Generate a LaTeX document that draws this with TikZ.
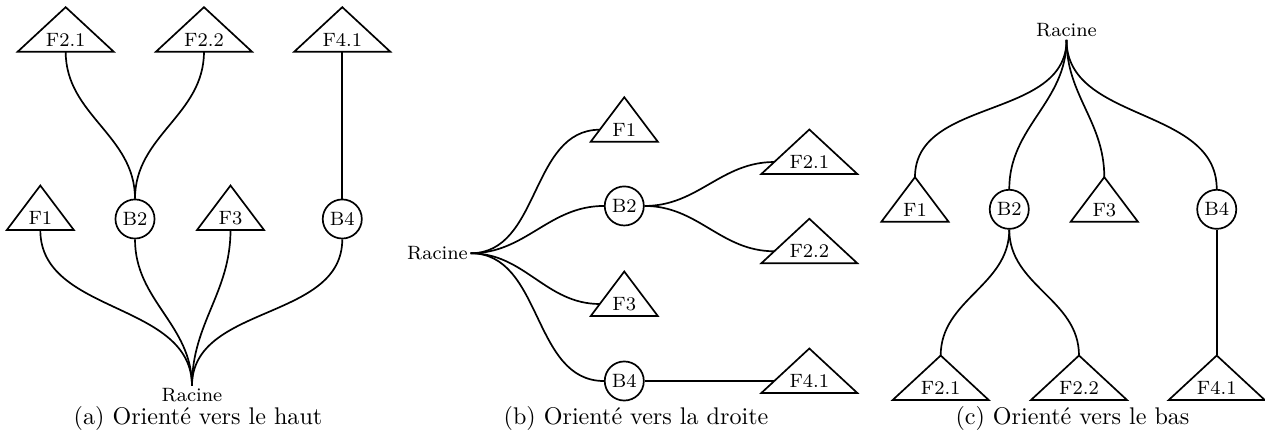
\documentclass[tikz,border=0pt]{standalone}
\usepackage{fontspec}
\usetikzlibrary{calc}
\def\feuille(#1)(#2)#3#4{%
  \node[feuille] (#1) at (#2) {#3};
  \draw[lien] ($(#1)+(-#4,-0.175)$) -- ($(#1)+(0,0.474)$) -- ($(#1)+(#4,-0.175)$) -- cycle;
  \coordinate (#1-b) at ($(#1)+(0,-0.175)$);
  \coordinate (#1-h) at ($(#1)+(0,0.474)$);
  \coordinate (#1-g) at ($(#1)+(-0.73*#4,0)$);
}

\begin{document}
\begin{tikzpicture}[
    lien/.style={line width=0.7pt},
    feuille/.style={inner sep=0pt, font=\footnotesize},
    noeud/.style={draw, circle, lien, minimum size=0.57cm, inner sep=0pt, font=\footnotesize},
    racine/.style={inner sep=1pt, font=\footnotesize},
    legende/.style={inner sep=0pt}]
	\useasboundingbox (0,0) rectangle (18.45,-6.432);
	
	%%%%% (a) vers le haut %%%%%
	\node[racine, anchor=north] (aR) at (2.800,-5.628) {Racine};
	\feuille(aF1)(0.588,-3.180){F1}{0.489}
	\node[noeud] (aB2) at (1.969,-3.194) {B2};
	\feuille(aF3)(3.362,-3.180){F3}{0.489}
	\node[noeud] (aB4) at (4.992,-3.194) {B4};
	\feuille(aF21)(0.958,-0.579){F2.1}{0.70}
	\feuille(aF22)(2.975,-0.579){F2.2}{0.70}
	\feuille(aF41)(4.992,-0.579){F4.1}{0.70}
	
	\draw[lien] (aR.north) to[out=90,in=-90] (aF1-b);
	\draw[lien] (aR.north) to[out=90,in=-90] (aB2.south);
	\draw[lien] (aR.north) to[out=90,in=-90] (aF3-b);
	\draw[lien] (aR.north) to[out=90,in=-90] (aB4.south);
	\draw[lien] (aB2.north) to[out=90,in=-90] (aF21-b);
	\draw[lien] (aB2.north) to[out=90,in=-90] (aF22-b);
	\draw[lien] (aB4.north) -- (aF41-b);
	
	\node[legende] (aL) at (2.888,-6.097) {(a) Orienté vers le haut};
	
	%%%%% (b) vers la droite %%%%%
	\node[racine, anchor=east] (bR) at (6.865,-3.694) {Racine};
	\feuille(bF1)(9.105,-1.892){F1}{0.489}
	\node[noeud] (bB2) at (9.105,-3.004) {B2};
	\feuille(bF3)(9.105,-4.434){F3}{0.489}
	\node[noeud] (bB4) at (9.105,-5.557) {B4};
	\feuille(bF21)(11.804,-2.363){F2.1}{0.70}
	\feuille(bF22)(11.804,-3.665){F2.2}{0.70}
	\feuille(bF41)(11.804,-5.557){F4.1}{0.70}
	
	\draw[lien] (bR.east) to[out=0,in=180] (bF1-g);
	\draw[lien] (bR.east) to[out=0,in=180] (bB2.west);
	\draw[lien] (bR.east) to[out=0,in=180] (bF3-g);
	\draw[lien] (bR.east) to[out=0,in=180] (bB4.west);
	\draw[lien] (bB2.east) to[out=0,in=180] (bF21-g);
	\draw[lien] (bB2.east) to[out=0,in=180] (bF22-g);
	\draw[lien] (bB4.east) -- (bF41-g);
	
	\node[legende] (bL) at (9.276,-6.097) {(b) Orienté vers la droite};
	
	%%%%% (c) vers le bas %%%%%
	\node[racine, anchor=south] (cR) at (15.555,-0.583) {Racine};
	\feuille(cF1)(13.345,-3.058){F1}{0.489}
	\node[noeud] (cB2) at (14.720,-3.053) {B2};
	\feuille(cF3)(16.106,-3.058){F3}{0.489}
	\node[noeud] (cB4) at (17.746,-3.053) {B4};
	\feuille(cF21)(13.720,-5.659){F2.1}{0.70}
	\feuille(cF22)(15.737,-5.659){F2.2}{0.70}
	\feuille(cF41)(17.746,-5.659){F4.1}{0.70}
	
	\draw[lien] (cR.south) to[out=-90,in=90] (cF1-h);
	\draw[lien] (cR.south) to[out=-90,in=90] (cB2.north);
	\draw[lien] (cR.south) to[out=-90,in=90] (cF3-h);
	\draw[lien] (cR.south) to[out=-90,in=90] (cB4.north);
	\draw[lien] (cB2.south) to[out=-90,in=90] (cF21-h);
	\draw[lien] (cB2.south) to[out=-90,in=90] (cF22-h);
	\draw[lien] (cB4.south) -- (cF41-h);
	
	\node[legende] (cL) at (15.642,-6.097) {(c) Orienté vers le bas};
\end{tikzpicture}
\end{document}
